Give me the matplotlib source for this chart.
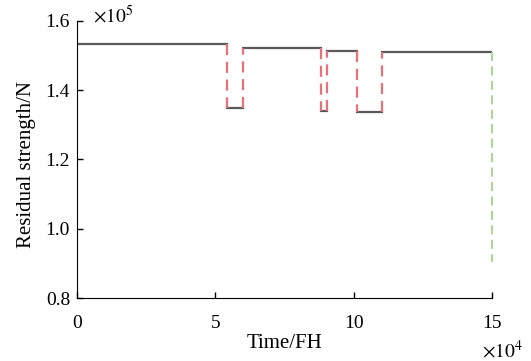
import matplotlib.pyplot as plt
import numpy as np

plt.rcParams['font.family'] = ['Liberation Serif', 'DejaVu Serif']
plt.rcParams['mathtext.fontset'] = 'stix'

# time in units of 1e4 FH, strength in units of 1e5 N
seg_start = [0.0, 6.0, 9.02, 11.02]
seg_end = [5.41, 8.82, 10.13, 15.0]
seg_level = [1.532, 1.521, 1.514, 1.510]

dip_start = [5.41, 8.82, 10.13]
dip_end = [6.0, 9.02, 11.02]
dip_level = [1.350, 1.341, 1.337]

fail_time = 15.0
fail_level = 0.905

fig = plt.figure(figsize=(5.31, 3.61), dpi=100)
ax = fig.add_axes([0.145, 0.1745, 0.782, 0.7675])

gray = '#5a5a5a'
red = '#e8707a'
green = '#9fd488'

for s, e, v in zip(seg_start, seg_end, seg_level):
    ax.plot([s, e], [v, v], color=gray, lw=1.6)

for i, (s, e, v) in enumerate(zip(dip_start, dip_end, dip_level)):
    ax.plot([s, e], [v, v], color=gray, lw=1.6)
    ax.plot([s, s], [seg_level[i], v], color=red, lw=1.6, dashes=(5, 3))
    ax.plot([e, e], [v, seg_level[i + 1]], color=red, lw=1.6, dashes=(5, 3))

ax.plot([fail_time, fail_time], [seg_level[-1], fail_level], color=green,
        lw=1.3, dashes=(5, 3), clip_on=False)

ax.set_xlim(0, 15)
ax.set_ylim(0.8, 1.6)
ax.set_xticks([0, 5, 10, 15])
ax.set_yticks([0.8, 1.0, 1.2, 1.4, 1.6])
ax.set_yticklabels(['0.8', '1.0', '1.2', '1.4', '1.6'])

for side in ['top', 'right']:
    ax.spines[side].set_visible(False)
ax.tick_params(direction='in', length=4, labelsize=14, width=1)
ax.tick_params(axis='x', pad=12)
ax.tick_params(axis='y', pad=5)

ax.set_xlabel('Time/FH', fontsize=15)
ax.xaxis.set_label_coords(0.5, -0.13)
ax.set_ylabel('Residual strength/N', fontsize=15)
ax.yaxis.set_label_coords(-0.099, 0.483)

fig.text(0.175, 0.955, r'$\times 10^5$', fontsize=14, ha='left', va='center')
fig.text(0.985, 0.03, r'$\times 10^4$', fontsize=14, ha='right', va='center')

fig.savefig('out.png', dpi=100)
